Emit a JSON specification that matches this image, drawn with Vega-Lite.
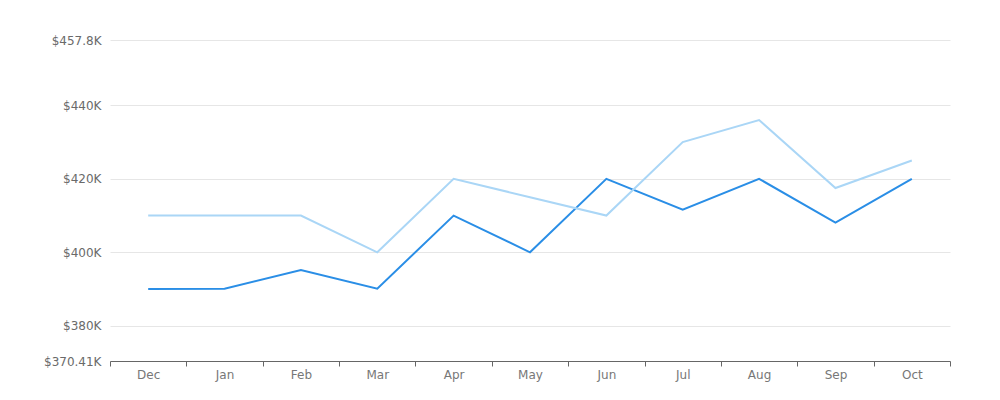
{
  "$schema": "https://vega.github.io/schema/vega-lite/v6.json",
  "width": 840,
  "height": 321,
  "autosize": {"type": "none"},
  "padding": {"left": 110, "top": 40, "right": 50, "bottom": 39},
  "background": "white",
  "config": {
    "view": {"stroke": null},
    "font": "DejaVu Sans"
  },
  "data": {
    "values": [
      {"month": "Dec", "series": "A", "value": 390000},
      {"month": "Jan", "series": "A", "value": 390100},
      {"month": "Feb", "series": "A", "value": 395200},
      {"month": "Mar", "series": "A", "value": 390100},
      {"month": "Apr", "series": "A", "value": 410000},
      {"month": "May", "series": "A", "value": 400000},
      {"month": "Jun", "series": "A", "value": 420000},
      {"month": "Jul", "series": "A", "value": 411600},
      {"month": "Aug", "series": "A", "value": 420000},
      {"month": "Sep", "series": "A", "value": 408100},
      {"month": "Oct", "series": "A", "value": 420000},
      {"month": "Dec", "series": "B", "value": 410000},
      {"month": "Jan", "series": "B", "value": 410000},
      {"month": "Feb", "series": "B", "value": 410000},
      {"month": "Mar", "series": "B", "value": 400000},
      {"month": "Apr", "series": "B", "value": 420000},
      {"month": "May", "series": "B", "value": 415000},
      {"month": "Jun", "series": "B", "value": 410000},
      {"month": "Jul", "series": "B", "value": 430000},
      {"month": "Aug", "series": "B", "value": 436000},
      {"month": "Sep", "series": "B", "value": 417500},
      {"month": "Oct", "series": "B", "value": 425000}
    ]
  },
  "mark": {"type": "line", "strokeWidth": 2},
  "encoding": {
    "x": {
      "field": "month",
      "type": "nominal",
      "sort": ["Dec", "Jan", "Feb", "Mar", "Apr", "May", "Jun", "Jul", "Aug", "Sep", "Oct"],
      "scale": {"type": "band", "paddingInner": 0, "paddingOuter": 0},
      "axis": {
        "title": null,
        "labelAngle": 0,
        "tickBand": "extent",
        "domainColor": "#666666",
        "tickColor": "#666666",
        "tickSize": 5,
        "labelColor": "#777777",
        "labelFontSize": 12,
        "labelPadding": 3,
        "grid": false
      }
    },
    "y": {
      "field": "value",
      "type": "quantitative",
      "scale": {"domain": [370410, 457800], "nice": false, "zero": false},
      "axis": {
        "title": null,
        "values": [370410, 380000, 400000, 420000, 440000, 457800],
        "labelExpr": "'$' + format(datum.value / 1000, '~f') + 'K'",
        "domain": false,
        "ticks": false,
        "labelPadding": 9,
        "labelColor": "#6a6a6a",
        "labelFontSize": 12,
        "gridColor": "#e6e6e6",
        "gridWidth": 1
      }
    },
    "color": {
      "field": "series",
      "type": "nominal",
      "scale": {"domain": ["B", "A"], "range": ["#aad6f6", "#2a8ee6"]},
      "legend": null
    },
    "order": {"field": "series", "sort": "descending"}
  }
}
